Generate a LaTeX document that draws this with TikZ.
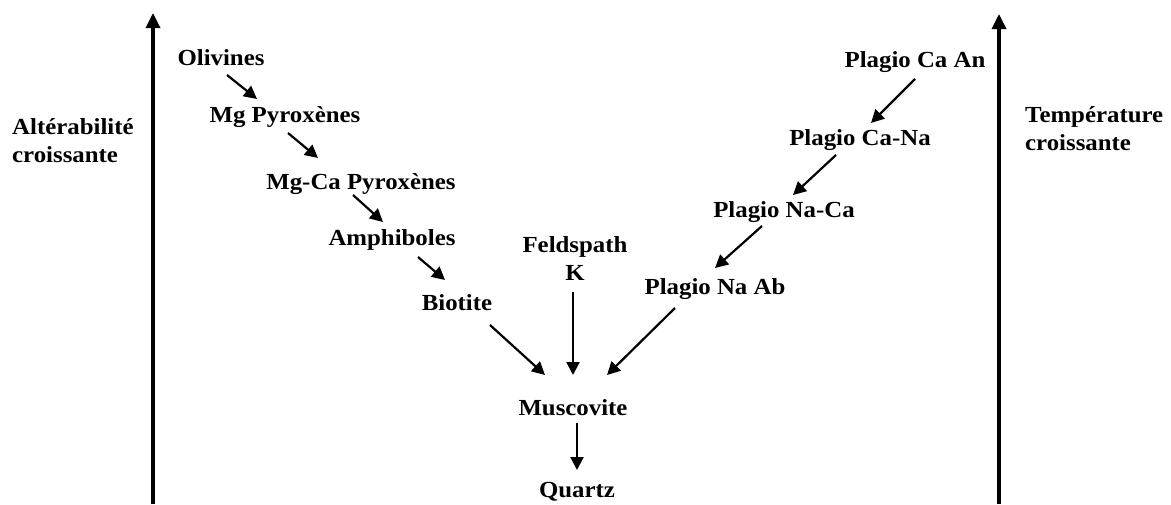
\documentclass[tikz,border=0pt]{standalone}
\usepackage{fontspec}
\setmainfont{Liberation Serif}[FakeStretch=1.08]
\usetikzlibrary{arrows.meta}
\tikzset{
  lbl/.style={font=\fontsize{23}{28}\selectfont\bfseries, inner sep=0pt, text height=15pt, text depth=0pt, align=center},
  side/.style={font=\fontsize{23}{28}\selectfont\bfseries, inner sep=0pt, align=left, anchor=west},
  arr/.style={line width=2.2pt, -{Triangle[length=13pt,width=13pt]}},
  axis/.style={line width=3.3pt, -{Triangle[length=15pt,width=14pt]}}
}
\begin{document}
\begin{tikzpicture}[x=1pt,y=-1pt]
\useasboundingbox[fill=white] (0,0) rectangle (1171,504);
% axes
\coordinate (lbot) at (153,504);
\coordinate (ltop) at (153,13);
\coordinate (rbot) at (999,504);
\coordinate (rtop) at (999,14);
\draw[axis] (lbot) -- (ltop);
\draw[axis] (rbot) -- (rtop);
% side labels
\node[side] (alt) at (12,141) {Altérabilité\\croissante};
\node[side] (temp) at (1025,129) {Température\\croissante};
% minerals
\node[lbl] (olivines) at (221,58) {Olivines};
\node[lbl] (mgpyr) at (285,115) {Mg Pyroxènes};
\node[lbl] (mgcapyr) at (361,182) {Mg-Ca Pyroxènes};
\node[lbl] (amphi) at (392,238) {Amphiboles};
\node[lbl] (biotite) at (457,303) {Biotite};
\node[lbl, text height=43pt] (feld) at (575,259) {Feldspath\\K};
\node[lbl] (musc) at (573,408) {Muscovite};
\node[lbl] (quartz) at (577,490) {Quartz};
\node[lbl] (pcaan) at (915,60) {Plagio Ca An};
\node[lbl] (pcana) at (860,138) {Plagio Ca-Na};
\node[lbl] (pnaca) at (784,210) {Plagio Na-Ca};
\node[lbl] (pnaab) at (715,287) {Plagio Na Ab};
% connectors
\draw[arr] ([shift={(6,17)}]olivines.center) -- ([shift={(-28,-16)}]mgpyr.center);
\draw[arr] ([shift={(3,18)}]mgpyr.center) -- ([shift={(-43,-24)}]mgcapyr.center);
\draw[arr] ([shift={(-8,13)}]mgcapyr.center) -- ([shift={(-9,-16)}]amphi.center);
\draw[arr] ([shift={(26,19)}]amphi.center) -- ([shift={(-12,-23)}]biotite.center);
\draw[arr] ([shift={(33,22)}]biotite.center) -- ([shift={(-28,-33)}]musc.center);
\draw[arr] ([shift={(-2,33)}]feld.center) -- ([shift={(0,-33)}]musc.center);
\draw[arr] ([shift={(-40,21)}]pnaab.center) -- ([shift={(34,-33)}]musc.center);
\draw[arr] ([shift={(4,15)}]musc.center) -- ([shift={(0,-20)}]quartz.center);
\draw[arr] ([shift={(0,19)}]pcaan.center) -- ([shift={(11,-15)}]pcana.center);
\draw[arr] ([shift={(-24,17)}]pcana.center) -- ([shift={(9,-15)}]pnaca.center);
\draw[arr] ([shift={(-22,16)}]pnaca.center) -- ([shift={(0,-19)}]pnaab.center);
\end{tikzpicture}
\end{document}
